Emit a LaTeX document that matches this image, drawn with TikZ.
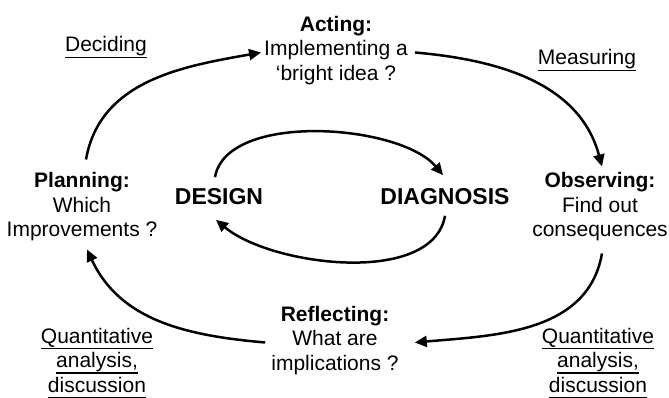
\documentclass[tikz,border=0pt]{standalone}
\usepackage{fontspec}
\setmainfont{Liberation Sans}
\usetikzlibrary{arrows.meta}

\newcommand{\ulword}[1]{\setbox0=\hbox{#1}\rlap{\rule[-6pt]{\wd0}{1.3pt}}\box0}

\begin{document}
\begin{tikzpicture}[x=1pt, y=1pt, cyc/.style={-{Triangle[length=12pt,width=11pt]}, line width=2.5pt}, stage/.style={align=center, inner sep=0pt, font=\fontsize{21}{24.5}\selectfont}, core/.style={inner sep=0pt, font=\fontsize{23}{27}\selectfont\bfseries}]

\useasboundingbox (0,0) rectangle (669,398);

\node[stage](act) at (336,347.5) {\textbf{Acting:}\\Implementing a\\`bright idea ?};
\node[stage](plan) at (82,191) {\textbf{Planning:}\\Which\\Improvements ?};
\node[stage](obs) at (600,191) {\textbf{Observing:}\\Find out\\consequences};
\node[stage](refl) at (335,57.5) {\textbf{Reflecting:}\\What are\\implications ?};

\node[core](design) at (219,201.5) {DESIGN};
\node[core](diag) at (445,201.5) {DIAGNOSIS};

\node[stage, anchor=base](decide) at (106,346) {\ulword{Deciding}};
\node[stage, anchor=base](measure) at (587,333) {\ulword{Measuring}};
\node[stage](quantl) at (97,35) {\ulword{Quantitative}\\\ulword{analysis,}\\\ulword{discussion}};
\node[stage](quantr) at (598,35) {\ulword{Quantitative}\\\ulword{analysis,}\\\ulword{discussion}};

% outer cycle
\draw[cyc] ([xshift=4pt,yshift=13pt]plan.north) to[out=80,in=190] ([xshift=-3pt,yshift=-2pt]act.west);
\draw[cyc] ([xshift=7pt,yshift=-2pt]act.east) to[out=-5,in=105] ([xshift=2pt,yshift=6pt]obs.north);
\draw[cyc] ([xshift=2pt,yshift=-12pt]obs.south) to[out=-100,in=5] ([xshift=16pt,yshift=-2pt]refl.east);
\draw[cyc] ([xshift=-6pt,yshift=-2pt]refl.west) to[out=175,in=-65] ([xshift=5pt,yshift=-8pt]plan.south);

% inner cycle
\draw[cyc] ([xshift=-4pt,yshift=11pt]design.north) to[out=80,in=130,looseness=0.75] ([xshift=-2pt,yshift=13pt]diag.north);
\draw[cyc] ([yshift=-11pt]diag.south) to[out=-100,in=-40,looseness=0.8] ([xshift=-3pt,yshift=-15pt]design.south);

\end{tikzpicture}
\end{document}
